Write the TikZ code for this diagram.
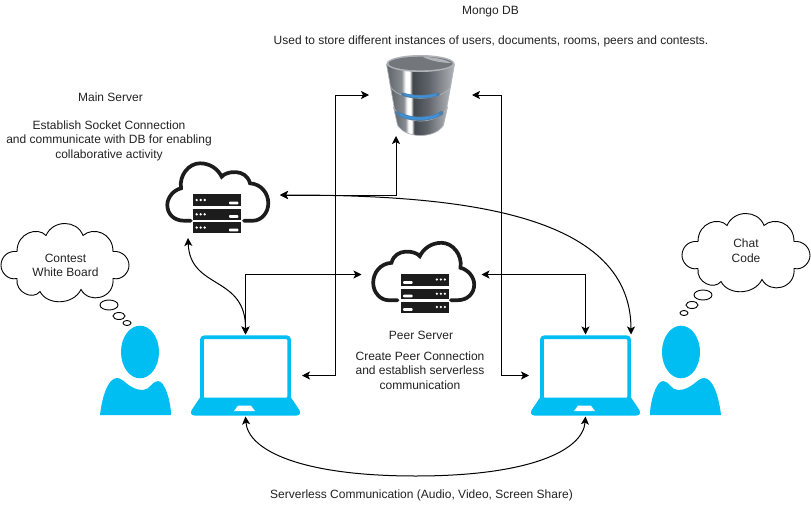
\documentclass[tikz,border=0pt]{standalone}
\usepackage{xcolor}
\usepackage{fontspec}
\usepackage{tikz}
\setmainfont{Liberation Sans}
\usetikzlibrary{arrows.meta}
\definecolor{accent}{HTML}{00BEF2}
\definecolor{rack}{HTML}{1C1C1C}
\definecolor{label}{HTML}{222222}
\definecolor{steelA}{HTML}{5F646A}
\definecolor{steelB}{HTML}{878C91}
\definecolor{steelC}{HTML}{42474D}
\definecolor{steelD}{HTML}{B0B3B8}
\definecolor{glow}{HTML}{3C92DC}
\definecolor{glowsoft}{HTML}{4F7FA8}
\pgfdeclarehorizontalshading{dbsteel}{100bp}{color(0bp)=(steelA); color(25bp)=(steelA); color(36bp)=(steelB); color(39bp)=(white); color(42bp)=(white); color(44bp)=(steelC); color(56bp)=(steelA); color(75bp)=(steelD); color(100bp)=(steelD)}
\tikzset{
    iconbox/.style={rectangle, inner sep=0pt, outer sep=0pt},
    link/.style={line width=1pt, black, {Stealth[length=8pt,width=8pt,inset=2pt]}-{Stealth[length=8pt,width=8pt,inset=2pt]}},
    % Server v oblaku
    servercloud/.pic={
        \draw[rack, line width=3.7pt, line cap=round] (-29.3,25.7) -- (-36,25.7) .. controls (-46,25.7) and (-52.7,19) .. (-52.7,10) .. controls (-52.7,2) and (-46,-5) .. (-39,-6.7) .. controls (-41,-20) and (-31,-31.7) .. (-20,-31.7) .. controls (-10,-31.7) and (-2,-26) .. (1.7,-18.3) .. controls (6,-24) and (26,-27) .. (30,-11.7) .. controls (41,-11) and (48.3,-2) .. (48.3,8.3) .. controls (48.3,18) and (41,25.7) .. (33,25.7) -- (24,25.7);
        \foreach \rackTop/\rackBot in {-1/11, 14/24.5, 27/38} {
            \fill[rack] (-27,\rackTop) rectangle (21,\rackBot);
            \fill[white, rounded corners=0.8pt] (9,\rackBot-4.4) rectangle (18.3,\rackBot-1.7);
            \foreach \dotX in {-23.3,-19.3,-15.3}
                \fill[white] (\dotX,{(\rackTop+\rackBot)/2}) circle (1.3);
        }
    },
    % Notebook
    laptop/.pic={
        \fill[accent] (-45.5,22) -- (45.5,22) -- (53.5,34) .. controls (55.5,37) and (54.5,40) .. (51,40) -- (-51,40) .. controls (-54.5,40) and (-55.5,37) .. (-53.5,34) -- cycle;
        \draw[accent, line width=3.7pt, fill=white, rounded corners=2.5pt] (-43.6,-38.2) rectangle (43.6,24);
        \fill[accent] (-45.5,23) rectangle (45.5,28);
        \fill[white] (-11.5,35.5) -- (9.5,35.5) -- (5.5,30.2) -- (-7.5,30.2) -- cycle;
    },
    % Uzivatel
    person/.pic={
        \fill[accent] (0,0) ellipse [x radius=19, y radius=26.3];
        \fill[accent] (-40,63) .. controls (-38,45) and (-32,26) .. (-23,26) .. controls (-16,26) and (-11,38) .. (3,38) .. controls (10,38) and (12,29) .. (18,29) .. controls (25,29) and (31,50) .. (31,63) -- cycle;
    },
    % Myslenkovy mrak
    thought/.pic={
        \draw[black, line width=0.9pt] (-48,-11) .. controls (-58,-12) and (-64,-5) .. (-64,3) .. controls (-64,10) and (-57,18) .. (-48,16) .. controls (-50,30) and (-32,38) .. (-25,29) .. controls (-18,43) and (8,43) .. (16,27) .. controls (24,42) and (50,36) .. (48,16) .. controls (57,18) and (64,10) .. (64,3) .. controls (64,-5) and (57,-12) .. (48,-11) .. controls (48,-30) and (28,-36) .. (18,-27) .. controls (12,-43) and (-12,-43) .. (-19,-27) .. controls (-27,-36) and (-48,-30) .. (-48,-11) -- cycle;
    },
    % Databaze
    dbstack/.pic={
        \shade[shading=dbsteel, draw=steelD, line width=0.7pt] (-27,12) -- (-23,30) .. controls (-15,44) and (15,44) .. (23,30) -- (27,12) -- cycle;
        \shade[shading=dbsteel, draw=steelD, line width=0.7pt] (-30,-8) -- (-26,14) .. controls (-16,30) and (16,30) .. (26,14) -- (30,-8) -- cycle;
        \shade[shading=dbsteel, draw=steelD, line width=0.7pt] (-34,-31) -- (-30,-8) .. controls (-20,7) and (20,7) .. (30,-8) -- (34,-31) -- cycle;
        \draw[glowsoft, line width=3.4pt, line cap=round] (-18,-0.8) .. controls (-8,2.6) and (8,2.6) .. (18,-0.8);
        \draw[glow, line width=1.8pt, line cap=round] (-15,-0.5) .. controls (-8,2.4) and (8,2.4) .. (15,-0.5);
        \draw[glowsoft, line width=4pt, line cap=round] (-23,18) .. controls (-12,25.5) and (10,25.5) .. (21,18);
        \draw[glow, line width=2.2pt, line cap=round] (-20,19.5) .. controls (-12,25) and (10,25) .. (18,19.5);
        \fill[steelD] (0,-31.5) ellipse [x radius=34, y radius=8.5];
        \fill[steelB!85!black] (0,-31.5) ellipse [x radius=32, y radius=6.8];
        \fill[steelD] (2,-38.2) .. controls (12,-38) and (24,-36) .. (31,-32) .. controls (22,-32) and (10,-34) .. (2,-38.2) -- cycle;
    }
}

\begin{document}
\begin{tikzpicture}[x=1pt, y=-1pt, every node/.style={font=\fontsize{12}{14.5}\selectfont, text=label}]
    \useasboundingbox (0,0) rectangle (811,506);

    % Ikony
    \node[iconbox, minimum width=103, minimum height=82] (mongo) at (420.5,95) {};
    \node[iconbox, minimum width=120, minimum height=86] (mainServer) at (220,195) {};
    \node[iconbox, minimum width=120, minimum height=80] (peerServer) at (421.5,274.5) {};
    \node[iconbox, minimum width=113, minimum height=82] (laptopL) at (245.5,375.5) {};
    \node[iconbox, minimum width=113, minimum height=82] (laptopR) at (585.5,375.5) {};

    \pic at (mongo.center) {dbstack};
    \pic at (mainServer.center) {servercloud};
    \pic[xscale=-1] at (peerServer.center) {servercloud};
    \pic at (laptopL.center) {laptop};
    \pic at (laptopR.center) {laptop};
    \pic at (140,352) {person};
    \pic[xscale=-1] at (681,352) {person};

    % Myslenky
    \pic at (65,262.5) {thought};
    \pic at (746,252.5) {thought};
    \draw[line width=0.9pt] (109,305) ellipse [x radius=9, y radius=5];
    \draw[line width=0.9pt] (119,316) ellipse [x radius=6, y radius=3.5];
    \draw[line width=0.9pt] (127,323) ellipse [x radius=4, y radius=2.5];
    \draw[line width=0.9pt] (703,295) ellipse [x radius=9, y radius=5];
    \draw[line width=0.9pt] (692,305) ellipse [x radius=6, y radius=3.5];
    \draw[line width=0.9pt] (684,313) ellipse [x radius=4, y radius=2.5];
    \node[align=center] (whiteboardText) at (65.5,265.5) {Contest\\White Board};
    \node[align=center] (chatText) at (746,250.5) {Chat\\Code};

    % Popisky
    \node (mongoTitle) at (490.5,12) {Mongo DB};
    \node (mongoText) at (491,41) {Used to store different instances of users, documents, rooms, peers and contests.};
    \node (mainTitle) at (110.5,97) {Main Server};
    \node[align=center] (mainText) at (109,140.5) {Establish Socket Connection\\and communicate with DB for enabling\\collaborative activity};
    \node (peerTitle) at (421,335) {Peer Server};
    \node[align=center] (peerText) at (420,370.5) {Create Peer Connection\\and establish serverless\\communication};
    \node (serverlessText) at (421.5,495) {Serverless Communication (Audio, Video, Screen Share)};

    % Spojnice
    \draw[link] (mongo.west) -- ++(-34,0) |- (laptopL.east);
    \draw[link] (mongo.east) -- ++(29,0) |- (laptopR.west);
    \draw[link] (mainServer.east) -| ([xshift=-24.5]mongo.south);
    \draw[link] (mainServer.east) .. controls (450,195) and (631,210) .. ([xshift=45.5]laptopR.north);
    \draw[link] ([xshift=-32]mainServer.south) .. controls (190,290) and (246,275) .. (laptopL.north);
    \draw[link] (peerServer.west) -| (laptopL.north);
    \draw[link] (peerServer.east) -| (laptopR.north);
    \draw[link] (laptopL.south) .. controls (248,450) and (300,476) .. (415.5,476) .. controls (531,476) and (583,450) .. (laptopR.south);
\end{tikzpicture}
\end{document}
